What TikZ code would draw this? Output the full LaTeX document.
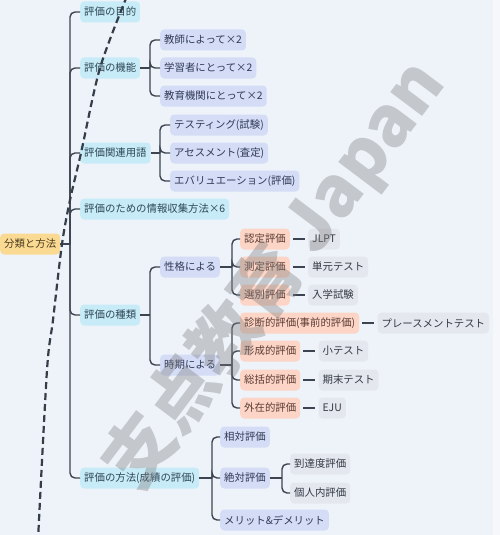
\documentclass[tikz,border=0pt]{standalone}
\usepackage{fontspec}
\setmainfont{Noto Sans CJK JP}
\usepackage{xcolor}
\usetikzlibrary{positioning}
\definecolor{bgcol}{HTML}{EEF3FA}
\definecolor{edgecol}{HTML}{F5F7FB}
\definecolor{linkcol}{HTML}{3B4450}
\definecolor{rootfill}{HTML}{FADA92}
\definecolor{roottext}{HTML}{4A3A1E}
\definecolor{topicfill}{HTML}{C8EBF8}
\definecolor{topictext}{HTML}{2D4656}
\definecolor{subfill}{HTML}{D4DCF6}
\definecolor{subtext}{HTML}{2F3A55}
\definecolor{kindfill}{HTML}{FCD5C6}
\definecolor{kindtext}{HTML}{5B3B33}
\definecolor{leaffill}{HTML}{E4E7EE}
\definecolor{leaftext}{HTML}{333A44}
\tikzset{
    %Define base style for boxes
    box/.style={
           rectangle,
           rounded corners=4pt,
           anchor=west,
           inner xsep=4pt, inner ysep=0pt,
           minimum height=21pt,
           font=\fontsize{10.4}{12}\selectfont},
    rootbox/.style={box, fill=rootfill, text=roottext},
    topic/.style={box, fill=topicfill, text=topictext},
    subbox/.style={box, fill=subfill, text=subtext},
    kind/.style={box, fill=kindfill, text=kindtext},
    leaf/.style={box, fill=leaffill, text=leaftext},
    % Define connector style
    link/.style={
           draw=linkcol,
           line width=1.4pt,
           rounded corners=5pt},
    % Define the dashed guide line
    guide/.style={
           draw=linkcol!90!black,
           line width=2.2pt,
           dash pattern=on 7pt off 4pt}
}

\begin{document}
\begin{tikzpicture}[x=1pt, y=-1pt, node distance=18pt]
 \useasboundingbox (0,0) rectangle (500,535);
 \fill[bgcol] (0,0) rectangle (500,535);
 \fill[edgecol] (493,0) rectangle (500,535);
 %nodes
 \node[rootbox] (root) at (0,244) {分類と方法};
 \node[topic] (m1) at (80,12)  {評価の目的};
 \node[topic] (m2) at (80,68)  {評価の機能};
 \node[topic] (m3) at (80,153) {評価関連用語};
 \node[topic] (m4) at (80,209) {評価のための情報収集方法×6};
 \node[topic] (m5) at (80,315) {評価の種類};
 \node[topic] (m6) at (80,478) {評価の方法(成績の評価)};
 % functions
 \node[subbox] (f1) at (160,40) {教師によって×2};
 \node[subbox] (f2) at (160,68) {学習者にとって×2};
 \node[subbox] (f3) at (160,96) {教育機関にとって×2};
 % terms
 \node[subbox] (t1) at (170,125) {テスティング(試験)};
 \node[subbox] (t2) at (170,153) {アセスメント(査定)};
 \node[subbox] (t3) at (170,181) {エバリュエーション(評価)};
 % kinds
 \node[subbox] (s1) at (160,267) {性格による};
 \node[subbox] (s2) at (160,365) {時期による};
 \node[kind] (k1) at (240,239) {認定評価};
 \node[kind] (k2) at (240,267) {測定評価};
 \node[kind] (k3) at (240,295) {選別評価};
 \node[kind] (k4) at (240,323) {診断的評価(事前的評価)};
 \node[kind] (k5) at (240,351) {形成的評価};
 \node[kind] (k6) at (240,380) {総括的評価};
 \node[kind] (k7) at (240,408) {外在的評価};
 \node[leaf, right=of k1] (e1) {JLPT};
 \node[leaf, right=of k2] (e2) {単元テスト};
 \node[leaf, right=of k3] (e3) {入学試験};
 \node[leaf, right=of k4] (e4) {プレースメントテスト};
 \node[leaf, right=of k5] (e5) {小テスト};
 \node[leaf, right=of k6] (e6) {期末テスト};
 \node[leaf, right=of k7] (e7) {EJU};
 % grading
 \node[subbox] (h1) at (220,437) {相対評価};
 \node[subbox] (h2) at (220,478) {絶対評価};
 \node[subbox] (h3) at (220,520) {メリット\&デメリット};
 \node[leaf] (a1) at (290,464) {到達度評価};
 \node[leaf] (a2) at (290,493) {個人内評価};

 % connectors
 \coordinate (jr) at (70,244);
 \draw[link] (root.east) -- (jr);
 \foreach \c in {m1,m2,m3,m4,m5,m6} \draw[link] (jr) |- (\c.west);
 \coordinate (j2) at (150,68);
 \draw[link] (m2.east) -- (j2);
 \foreach \c in {f1,f2,f3} \draw[link] (j2) |- (\c.west);
 \coordinate (j3) at (160,153);
 \draw[link] (m3.east) -- (j3);
 \foreach \c in {t1,t2,t3} \draw[link] (j3) |- (\c.west);
 \coordinate (j5) at (150,315);
 \draw[link] (m5.east) -- (j5);
 \foreach \c in {s1,s2} \draw[link] (j5) |- (\c.west);
 \coordinate (js1) at (232,267);
 \draw[link] (s1.east) -- (js1);
 \foreach \c in {k1,k2,k3} \draw[link] (js1) |- (\c.west);
 \coordinate (js2) at (232,365);
 \draw[link] (s2.east) -- (js2);
 \foreach \c in {k4,k5,k6,k7} \draw[link] (js2) |- (\c.west);
 \foreach \k/\e in {k1/e1,k2/e2,k3/e3,k4/e4,k5/e5,k6/e6,k7/e7}
   \draw[link, shorten <=3pt, shorten >=3pt] (\k) -- (\e);
 \coordinate (j6) at (212,478);
 \draw[link] (m6.east) -- (j6);
 \foreach \c in {h1,h2,h3} \draw[link] (j6) |- (\c.west);
 \coordinate (jh) at (282,478);
 \draw[link] (h2.east) -- (jh);
 \foreach \c in {a1,a2} \draw[link] (jh) |- (\c.west);

 % dashed guide across the map
 \draw[guide] plot[smooth] coordinates {(127,-4) (100,68) (81,153) (70,200) (62,244) (53,320) (47,370) (38,540)};

 % watermark
 \node[rotate=53, text=gray, opacity=0.38, font=\fontsize{70}{70}\selectfont\bfseries]
   (wm) at (275,275) {支点教育 Japan};
\end{tikzpicture}
\end{document}
